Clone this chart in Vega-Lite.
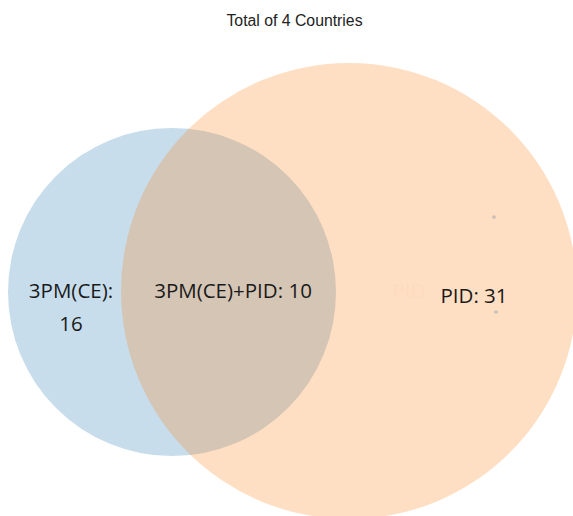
{
  "$schema": "https://vega.github.io/schema/vega-lite/v6.json",
  "width": 573,
  "height": 516,
  "autosize": "none",
  "padding": 0,
  "background": "white",
  "config": {"view": {"stroke": null}},
  "title": {"text": "Total of 4 Countries", "font": "Liberation Sans", "fontSize": 15.8, "fontWeight": "normal", "color": "#222222", "anchor": "middle", "offset": -30, "dx": 8},
  "datasets": {
    "sets": [
      {"set": "3PM(CE)", "cx": 172, "cy": 292, "total": 26},
      {"set": "PID", "cx": 349, "cy": 291, "total": 41}
    ],
    "regions": [
      {"label": "3PM(CE):\n16", "lx": 71, "ly": 292},
      {"label": "3PM(CE)+PID: 10", "lx": 233, "ly": 292},
      {"label": "PID: 31", "lx": 474, "ly": 297}
    ],
    "setlabels": [{"label": "PID", "lx": 409, "ly": 292}],
    "dots": [{"dx": 494, "dy": 217}, {"dx": 496, "dy": 312}]
  },
  "layer": [
    {
      "data": {"name": "sets"},
      "mark": {"type": "point", "shape": "circle", "filled": true, "opacity": 0.25, "strokeWidth": 0},
      "encoding": {
        "x": {"field": "cx", "type": "quantitative", "scale": {"domain": [0, 573], "nice": false, "zero": false}, "axis": null},
        "y": {"field": "cy", "type": "quantitative", "scale": {"domain": [0, 516], "nice": false, "zero": false, "reverse": true}, "axis": null},
        "size": {"field": "total", "type": "quantitative", "scale": {"type": "linear", "domain": [26, 41], "range": [107584, 207936], "zero": false}, "legend": null},
        "color": {"field": "set", "type": "nominal", "scale": {"domain": ["3PM(CE)", "PID"], "range": ["#1f77b4", "#ff7f0e"]}, "legend": null}
      }
    },
    {
      "data": {"name": "setlabels"},
      "mark": {"type": "text", "font": "Open Sans", "fontSize": 20.5, "color": "#fddbbe", "align": "center", "baseline": "middle"},
      "encoding": {
        "x": {"field": "lx", "type": "quantitative"},
        "y": {"field": "ly", "type": "quantitative"},
        "text": {"field": "label"}
      }
    },
    {
      "data": {"name": "dots"},
      "mark": {"type": "point", "shape": "circle", "filled": true, "size": 14, "color": "#c9c1b9", "opacity": 1},
      "encoding": {
        "x": {"field": "dx", "type": "quantitative"},
        "y": {"field": "dy", "type": "quantitative"}
      }
    },
    {
      "data": {"name": "regions"},
      "mark": {"type": "text", "font": "Open Sans", "fontSize": 20.5, "color": "#1a1a1a", "align": "center", "baseline": "middle", "lineBreak": "\n", "lineHeight": 33},
      "encoding": {
        "x": {"field": "lx", "type": "quantitative"},
        "y": {"field": "ly", "type": "quantitative"},
        "text": {"field": "label"}
      }
    }
  ]
}
